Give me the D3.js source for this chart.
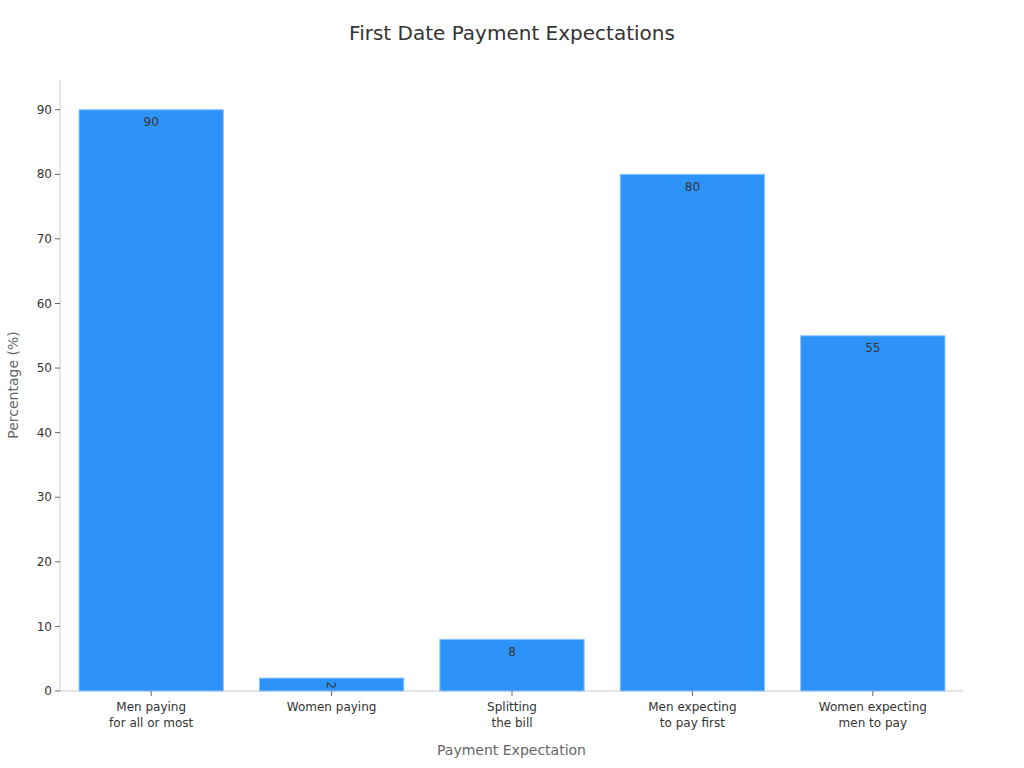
<!DOCTYPE html>
<html><head><meta charset="utf-8">
<script src="https://cdn.jsdelivr.net/npm/d3@7"></script>
<style>body{margin:0;background:#fff;font-family:"DejaVu Sans",sans-serif;}</style>
</head><body><svg id="c" width="1024" height="768"></svg>
<script>
const categories = [["Men paying","for all or most"],["Women paying"],["Splitting","the bill"],["Men expecting","to pay first"],["Women expecting","men to pay"]];
const values = [90, 2, 8, 80, 55];
const yTicks = [0,10,20,30,40,50,60,70,80,90];

const svg = d3.select("#c");
const m = {l:60, r:61, t:80, b:77};
const W = 1024, H = 768;
const x = d3.scaleBand().domain(d3.range(values.length)).range([m.l + 1, W-m.r]).paddingInner(0.2).paddingOuter(0.1);
const y = d3.scaleLinear().domain([0, 94.6]).range([H-m.b, m.t]);

svg.append("text").attr("x", 512).attr("y", 40).attr("text-anchor","middle")
  .attr("font-size", 20).attr("fill","#333").text("First Date Payment Expectations");

// axes lines
svg.append("line").attr("x1", m.l).attr("x2", m.l).attr("y1", m.t).attr("y2", H-m.b).attr("stroke","#ccc");
svg.append("line").attr("x1", m.l).attr("x2", W-m.r).attr("y1", H-m.b).attr("y2", H-m.b).attr("stroke","#ccc");

// y ticks
const yt = svg.append("g");
yTicks.forEach(t => {
  yt.append("line").attr("x1", m.l-5).attr("x2", m.l).attr("y1", y(t)).attr("y2", y(t)).attr("stroke","#666");
  yt.append("text").attr("x", m.l-8).attr("y", y(t)).attr("dy","0.35em").attr("text-anchor","end")
    .attr("font-size", 12).attr("fill","#333").text(t);
});

// bars
svg.append("g").selectAll("rect").data(values).join("rect")
  .attr("x", (d,i)=>x(i)).attr("width", x.bandwidth())
  .attr("y", d=>y(d)).attr("height", d=>y(0)-y(d))
  .attr("fill","#2e93f8").attr("stroke","#8cc4fb").attr("stroke-width",1);

// value labels
svg.append("g").selectAll("text").data(values).join("text")
  .attr("transform", (d,i)=> {
    const cx = x(i)+x.bandwidth()/2, cy = y(d)+12;
    return d < 5 ? `translate(${cx},${y(d)+7}) rotate(90)` : `translate(${cx},${cy})`;
  })
  .attr("dy","0.35em").attr("text-anchor","middle")
  .attr("font-size", 12).attr("fill","#333").text(d=>d);

// x ticks & labels
const xt = svg.append("g");
categories.forEach((c,i) => {
  const cx = x(i)+x.bandwidth()/2;
  xt.append("line").attr("x1", cx).attr("x2", cx).attr("y1", H-m.b).attr("y2", H-m.b+5).attr("stroke","#666");
  const t = xt.append("text").attr("x", cx).attr("y", H-m.b+20).attr("text-anchor","middle")
    .attr("font-size", 12).attr("fill","#333");
  c.forEach((line,j)=> t.append("tspan").attr("x", cx).attr("dy", j===0? 0 : 16).text(line));
});

// axis titles
svg.append("text").attr("x", (m.l+W-m.r)/2).attr("y", 755).attr("text-anchor","middle")
  .attr("font-size", 14).attr("fill","#666").text("Payment Expectation");
svg.append("text").attr("transform", `translate(18,385) rotate(-90)`).attr("text-anchor","middle")
  .attr("font-size", 14).attr("fill","#666").text("Percentage (%)");
</script></body></html>
